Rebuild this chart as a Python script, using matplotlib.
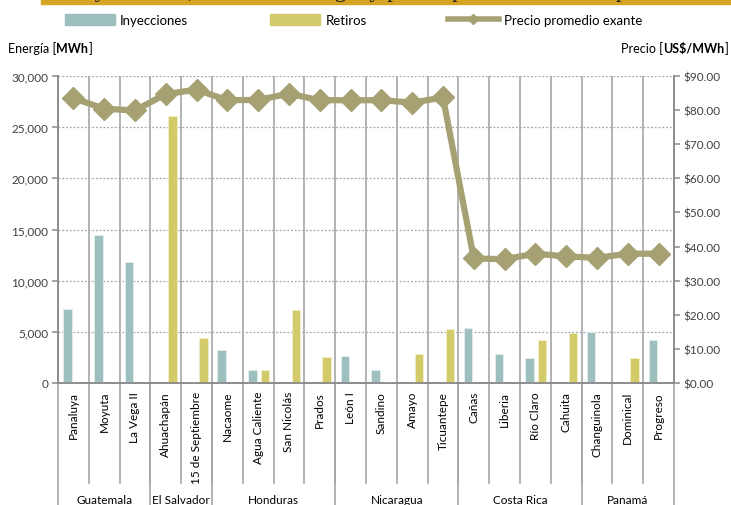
import matplotlib.pyplot as plt
import numpy as np
from matplotlib.lines import Line2D
from matplotlib.patches import Rectangle, Patch

# data
nodos = ['Panaluya', 'Moyuta', 'La Vega II', 'Ahuachapán', '15 de Septiembre',
         'Nacaome', 'Agua Caliente', 'San Nicolás', 'Prados', 'León I',
         'Sandino', 'Amayo', 'Ticuantepe', 'Cañas', 'Liberia', 'Río Claro',
         'Cahuita', 'Changuinola', 'Dominical', 'Progreso']
paises = ['Guatemala', 'El Salvador', 'Honduras', 'Nicaragua', 'Costa Rica', 'Panamá']
nodos_por_pais = [3, 2, 4, 4, 4, 3]

inyecciones = [7200, 14450, 11850, 0, 50, 3200, 1300, 0, 0, 2600,
               1250, 0, 0, 5350, 2800, 2450, 0, 4950, 0, 4250]
retiros = [0, 0, 0, 26100, 4400, 0, 1300, 7150, 2550, 0,
           50, 2800, 5300, 0, 30, 4250, 4900, 0, 2450, 0]
precio = [83.5, 80.4, 79.9, 84.7, 86.0, 82.9, 83.0, 84.8, 82.9, 82.9,
          82.9, 82.2, 83.7, 36.5, 36.3, 37.9, 37.1, 36.7, 37.9, 37.9]

c_iny = '#9DBFBE'
c_ret = '#D3CB6A'
c_pre = '#A6A172'
c_grid = '#A6A6A6'
c_txt = '#404040'

plt.rcParams['font.family'] = ['Lato', 'DejaVu Sans']

fig = plt.figure(figsize=(7.31, 5.06), dpi=100)
ax = fig.add_axes([58 / 731, 1 - 384 / 506, 616 / 731, 307 / 506])
ax2 = ax.twinx()

x = np.arange(len(nodos))
ax.bar(x - 0.19, inyecciones, width=0.27, color=c_iny, edgecolor='#E4EEEE', linewidth=0.6, zorder=3)
ax.bar(x + 0.22, retiros, width=0.27, color=c_ret, edgecolor='#F2EECC', linewidth=0.6, zorder=3)

ax.set_xlim(-0.5, len(nodos) - 0.5)
ax.set_ylim(0, 30000)
ax.set_yticks(np.arange(0, 30001, 5000))
ax.set_yticklabels([f'{v:,}' for v in range(0, 30001, 5000)])
ax.yaxis.grid(True, linestyle=(0, (1.5, 1.5)), color=c_grid, linewidth=0.9)
ax.set_axisbelow(True)
for b in np.arange(0.5, len(nodos) - 0.5):
    ax.axvline(b, color=c_grid, linewidth=1.2, zorder=1)

ax2.plot(x, precio, color=c_pre, linewidth=4.5, marker='D', markersize=11,
         markerfacecolor=c_pre, markeredgecolor=c_pre, zorder=5)
ax2.set_ylim(0, 90)
ax2.set_yticks(np.arange(0, 91, 10))
ax2.set_yticklabels([f'${v:.2f}' for v in range(0, 91, 10)])
ax.set_zorder(ax2.get_zorder() - 1)
ax.patch.set_visible(False)

for a in (ax, ax2):
    for s in a.spines.values():
        s.set_color('#8C8C8C')
        s.set_linewidth(1.2)
    a.spines['top'].set_visible(False)
    a.tick_params(axis='y', colors=c_txt, labelsize=8.5, length=4, width=1.1,
                  color='#8C8C8C', pad=3)
ax.tick_params(axis='x', length=0, labelbottom=False)
ax2.tick_params(axis='x', length=0)

# category labels and separators under the axis
trans = ax.get_xaxis_transform()
for i, n in enumerate(nodos):
    ax.text(i, -0.026, n, rotation=90, ha='center', va='top', fontsize=8.5,
            color='black', transform=trans)
for b in np.arange(0.5, len(nodos) - 0.5):
    ax.add_line(Line2D([b, b], [0, -0.325], color=c_grid, linewidth=1.2,
                       transform=trans, clip_on=False))
bordes = np.concatenate([[0], np.cumsum(nodos_por_pais)]) - 0.5
for b in bordes:
    ax.add_line(Line2D([b, b], [0, -0.41], color=c_grid, linewidth=1.2,
                       transform=trans, clip_on=False))
for p, a0, a1 in zip(paises, bordes[:-1], bordes[1:]):
    ax.text((a0 + a1) / 2, -0.378, p, ha='center', va='center', fontsize=8.5,
            color='black', transform=trans)

# legend
handles = [Patch(color=c_iny), Patch(color=c_ret),
           Line2D([], [], color=c_pre, linewidth=4, marker='D', markersize=5)]
fig.legend(handles, ['Inyecciones', 'Retiros', 'Precio promedio exante'],
           loc='center left', bbox_to_anchor=(58 / 731, 1 - 21 / 506), ncol=3,
           frameon=False, fontsize=9.5, handlelength=3.8, handleheight=0.9,
           handletextpad=0.4, columnspacing=6.2, borderpad=0)

# axis titles
fig.canvas.draw()
r = fig.canvas.get_renderer()
def etiqueta(x0, y0, partes, ha):
    piezas = []
    xx = x0
    for txt, w in partes:
        t = fig.text(xx, y0, txt, fontsize=9, fontweight=w, color='black', va='center')
        piezas.append(t)
        bb = t.get_window_extent(renderer=r)
        xx += bb.width / fig.bbox.width
    if ha == 'right':
        shift = xx - x0
        for t in piezas:
            px, py = t.get_position()
            t.set_position((px - shift, py))

etiqueta(8 / 731, 1 - 49 / 506, [('Energía [', 'normal'), ('MWh', 'bold'), (']', 'normal')], 'left')
etiqueta(728 / 731, 1 - 49 / 506, [('Precio [', 'normal'), ('US$/MWh', 'bold'), (']', 'normal')], 'right')

# cut-off title band at the top
fig.patches.append(Rectangle((41 / 731, 1 - 5 / 506), 1 - 41 / 731, 5 / 506,
                             transform=fig.transFigure, color='#D7A523', zorder=0))
fig.text(0.53, 1 + 2.5 / 506, 'Inyecciones, retiros de energía y precio promedio exante por nodo',
         family='Liberation Serif', fontsize=17, color='#222222', ha='center', va='baseline')

plt.savefig('out.png', dpi=100)
